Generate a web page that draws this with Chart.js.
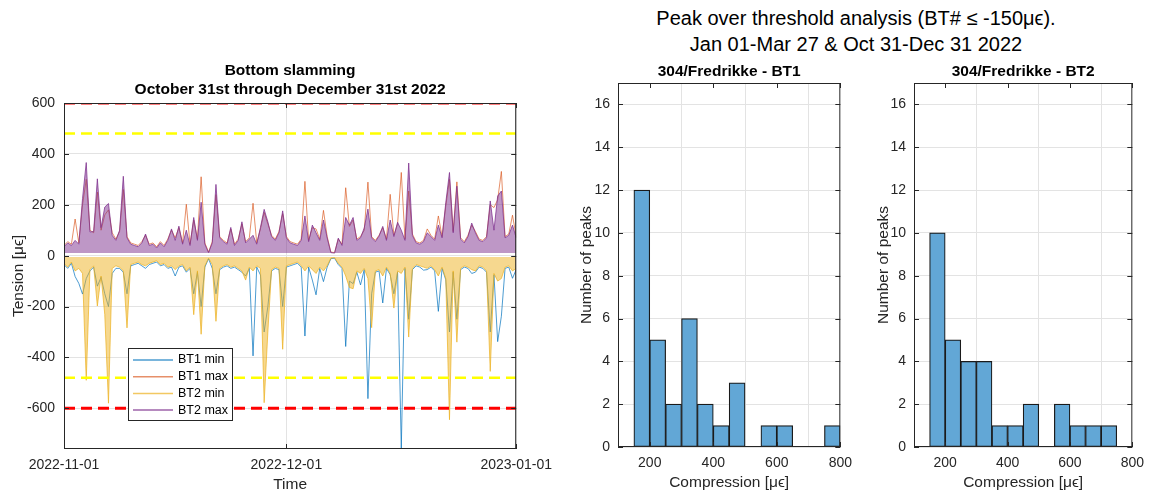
<!DOCTYPE html>
<html>
<head>
<meta charset="utf-8">
<script src="https://cdn.jsdelivr.net/npm/chart.js@4"></script>
<style>
  body { margin: 0; background: #fff; width: 1152px; height: 495px; overflow: hidden; position: relative; font-family: "Liberation Sans", Arial, sans-serif; }
  .sup { position: absolute; left: 560px; width: 592px; text-align: center; font-size: 20px; line-height: 26px; color: #000; }
  canvas { position: absolute; top: 0; }
</style>
</head>
<body>
<div class="sup" style="top:5px">Peak over threshold analysis (BT# ≤ -150μϵ).</div>
<div class="sup" style="top:31px">Jan 01-Mar 27 &amp; Oct 31-Dec 31 2022</div>
<canvas id="timeChart" width="560" height="495" style="left:0"></canvas>
<canvas id="histBT1" width="300" height="495" style="left:560px"></canvas>
<canvas id="histBT2" width="292" height="495" style="left:860px"></canvas>
<script>
// ---- time series data (samples every half day from 2022-11-01) ----
const stepDays = 0.5;
const tickDays = [0, 30, 61];
const tickLabels = ['2022-11-01', '2022-12-01', '2023-01-01'];
const tensionTicks = [-600, -400, -200, 0, 200, 400, 600];
const redLimit = 600;
const yellowLimit = 480;

const bt1Min = [
    -35, -50, -30, -82, -109, -151, -90, -60, -45, -120,
    -85, -150, -200, -70, -50, -50, -65, -150, -40, -35,
    -30, -40, -50, -35, -30, -25, -40, -35, -50, -45,
    -80, -45, -40, -65, -50, -150, -65, -200, -45, -12,
    -50, -150, -55, -45, -40, -50, -45, -55, -65, -80,
    -50, -394, -45, -76, -300, -200, -60, -50, -55, -200,
    -45, -40, -35, -30, -45, -316, -45, -96, -154, -50,
    -102, -45, -12, -10, -35, -50, -357, -100, -110, -65,
    -115, -55, -562, -150, -65, -60, -186, -50, -75, -150,
    -65, -757, -50, -250, -55, -40, -45, -57, -55, -45,
    -60, -219, -50, -95, -300, -65, -250, -55, -45, -50,
    -70, -65, -45, -50, -65, -300, -75, -338, -238, -50,
    -45, -89, -55
];
const bt1Max = [
    40, 55, 45, 144, 50, 200, 300, 100, 90, 250,
    100, 160, 180, 90, 65, 95, 260, 75, 50, 45,
    40, 55, 80, 45, 50, 35, 55, 40, 65, 100,
    70, 110, 50, 202, 45, 140, 65, 310, 50, 14,
    55, 240, 75, 60, 50, 105, 45, 65, 125, 55,
    70, 206, 50, 105, 170, 125, 80, 65, 95, 165,
    75, 55, 50, 45, 65, 292, 60, 110, 105, 65,
    178, 75, 14, 12, 65, 45, 267, 115, 140, 65,
    75, 100, 289, 75, 60, 80, 110, 65, 241, 80,
    125, 327, 65, 254, 85, 55, 50, 60, 105, 80,
    65, 156, 75, 195, 300, 95, 290, 70, 55, 80,
    120, 95, 65, 60, 75, 200, 189, 220, 331, 75,
    85, 159, 75
];
const bt2Min = [
    -30, -45, -25, -60, -50, -70, -490, -55, -40, -198,
    -80, -232, -580, -50, -40, -45, -60, -284, -35, -30,
    -25, -35, -40, -30, -25, -20, -35, -30, -45, -40,
    -55, -40, -35, -60, -45, -232, -60, -309, -40, -10,
    -35, -258, -50, -40, -35, -45, -40, -50, -60, -96,
    -45, -60, -40, -50, -578, -300, -55, -45, -50, -368,
    -40, -35, -30, -25, -40, -60, -40, -55, -70, -45,
    -60, -40, -10, -8, -30, -45, -80, -125, -130, -60,
    -70, -50, -90, -283, -60, -55, -80, -45, -70, -206,
    -60, -70, -45, -320, -50, -35, -40, -45, -50, -40,
    -55, -80, -45, -90, -645, -60, -340, -50, -40, -45,
    -55, -60, -40, -45, -60, -455, -70, -100, -90, -45,
    -40, -60, -50
];
const bt2Max = [
    35, 50, 40, 60, 45, 225, 366, 93, 95, 302,
    110, 191, 205, 80, 60, 100, 312, 70, 45, 40,
    35, 50, 85, 40, 45, 30, 50, 35, 60, 105,
    60, 116, 45, 100, 40, 150, 60, 210, 45, 12,
    50, 280, 70, 55, 45, 111, 40, 60, 133, 50,
    65, 80, 45, 111, 182, 133, 75, 60, 90, 176,
    70, 50, 45, 40, 60, 156, 55, 120, 90, 60,
    140, 70, 12, 10, 69, 40, 150, 120, 150, 60,
    70, 109, 183, 70, 55, 77, 115, 60, 140, 75,
    131, 100, 60, 364, 79, 50, 45, 55, 90, 75,
    60, 120, 70, 208, 327, 90, 273, 65, 50, 75,
    128, 90, 60, 55, 70, 215, 100, 234, 254, 70,
    80, 120, 70
];

// ---- histogram data (bins of 50 με) ----
const binCenters = [175, 225, 275, 325, 375, 425, 475, 525, 575, 625, 675, 725, 775];
const bt1Counts = [12, 5, 2, 6, 2, 1, 3, 0, 1, 1, 0, 0, 1];
const bt2Counts = [10, 5, 4, 4, 1, 1, 2, 0, 2, 1, 1, 1, 0];
const compressionTicks = [200, 400, 600, 800];
const peakTicks = [0, 2, 4, 6, 8, 10, 12, 14, 16];

const axisColor = '#262626';
const gridColor = '#e3e3e3';
const fontFamily = '"Liberation Sans", Arial, sans-serif';
const tickFont = { family: fontFamily, size: 14 };
const labelFont = { family: fontFamily, size: 15.5 };

const seriesStyle = {
    'BT1 min': 'rgba(0, 114, 189, 0.7)',
    'BT1 max': 'rgba(217, 83, 25, 0.65)',
    'BT2 min': 'rgba(237, 177, 32, 0.7)',
    'BT2 max': 'rgba(126, 47, 142, 0.75)'
};

// box around the axes with inward tick marks (matlab look)
const boxPlugin = {
    id: 'box',
    afterDraw(chart) {
        const { ctx, chartArea: a, scales } = chart;
        ctx.save();
        ctx.strokeStyle = axisColor;
        ctx.lineWidth = 1;
        ctx.strokeRect(a.left + 0.5, a.top + 0.5, a.right - a.left - 1, a.bottom - a.top - 1);
        ctx.beginPath();
        scales.x.ticks.forEach(t => {
            const px = Math.round(scales.x.getPixelForValue(t.value)) + 0.5;
            ctx.moveTo(px, a.bottom); ctx.lineTo(px, a.bottom - 5);
            ctx.moveTo(px, a.top); ctx.lineTo(px, a.top + 5);
        });
        scales.y.ticks.forEach(t => {
            const py = Math.round(scales.y.getPixelForValue(t.value)) + 0.5;
            ctx.moveTo(a.left, py); ctx.lineTo(a.left + 5, py);
            ctx.moveTo(a.right, py); ctx.lineTo(a.right - 5, py);
        });
        ctx.stroke();
        ctx.restore();
    }
};

// bold title centred over the plot area
const axTitlePlugin = {
    id: 'axTitle',
    afterDraw(chart, args, opts) {
        const { ctx, chartArea: a } = chart;
        ctx.save();
        ctx.font = 'bold 15.5px ' + fontFamily;
        ctx.fillStyle = '#000';
        ctx.textAlign = 'center';
        ctx.textBaseline = 'middle';
        opts.lines.forEach((t, i) => ctx.fillText(t, (a.left + a.right) / 2, opts.y + i * 19));
        ctx.restore();
    }
};

// legend box inside the plot
const boxLegendPlugin = {
    id: 'boxLegend',
    afterDraw(chart, args, opts) {
        const { ctx } = chart;
        const names = Object.keys(seriesStyle);
        ctx.save();
        ctx.fillStyle = '#fff';
        ctx.fillRect(opts.x, opts.y, opts.w, opts.h);
        ctx.strokeStyle = axisColor;
        ctx.lineWidth = 1;
        ctx.strokeRect(opts.x + 0.5, opts.y + 0.5, opts.w, opts.h);
        ctx.font = '12.5px ' + fontFamily;
        ctx.textBaseline = 'middle';
        names.forEach((n, i) => {
            const cy = opts.y + 12 + i * 16.7;
            ctx.strokeStyle = seriesStyle[n];
            ctx.lineWidth = 1.5;
            ctx.beginPath();
            ctx.moveTo(opts.x + 5, cy); ctx.lineTo(opts.x + 45, cy);
            ctx.stroke();
            ctx.fillStyle = '#000';
            ctx.fillText(n, opts.x + 50, cy);
        });
        ctx.restore();
    }
};

const toPoints = arr => arr.map((v, i) => ({ x: i * stepDays, y: v }));

const lineSet = (label, arr, order, fillBase, fillAlpha) => ({
    label: label,
    data: toPoints(arr),
    borderColor: seriesStyle[label],
    backgroundColor: seriesStyle[label].replace(/[\d.]+\)$/, fillAlpha + ')'),
    fill: fillBase === null ? false : { value: fillBase },
    borderWidth: 1,
    pointRadius: 0,
    order: order
});

const limitSet = (value, color, width) => ({
    data: [{ x: tickDays[0], y: value }, { x: tickDays[2], y: value }],
    borderColor: color,
    borderWidth: width,
    borderDash: [11, 6],
    pointRadius: 0,
    fill: false,
    order: 0
});

new Chart(document.getElementById('timeChart'), {
    type: 'line',
    data: {
        datasets: [
            lineSet('BT1 min', bt1Min, 4, null, 0),
            lineSet('BT1 max', bt1Max, 3, null, 0),
            lineSet('BT2 min', bt2Min, 2, -5, 0.5),
            lineSet('BT2 max', bt2Max, 1, 10, 0.5),
            limitSet(redLimit, '#ff0000', 3),
            limitSet(-redLimit, '#ff0000', 3),
            limitSet(yellowLimit, '#ffff00', 2.5),
            limitSet(-yellowLimit, '#ffff00', 2.5)
        ]
    },
    options: {
        responsive: false,
        animation: false,
        devicePixelRatio: 1,
        layout: { padding: { left: 0, top: 103, right: 43, bottom: 0 } },
        plugins: {
            legend: { display: false },
            tooltip: { enabled: false },
            axTitle: { lines: ['Bottom slamming', 'October 31st through December 31st 2022'], y: 71 },
            boxLegend: { x: 128, y: 348, w: 104, h: 72 }
        },
        scales: {
            x: {
                type: 'linear', min: tickDays[0], max: tickDays[2],
                afterBuildTicks: s => { s.ticks = tickDays.map(v => ({ value: v })); },
                afterFit: s => { s.height = 46; },
                grid: { color: gridColor, drawTicks: false },
                border: { display: false },
                ticks: { color: axisColor, font: tickFont, padding: 8, maxRotation: 0,
                    callback: (v, i) => tickLabels[i] },
                title: { display: true, text: 'Time', color: axisColor, font: labelFont, padding: { top: 0, bottom: 1 } }
            },
            y: {
                min: -760, max: 600,
                afterBuildTicks: s => { s.ticks = tensionTicks.map(v => ({ value: v })); },
                afterFit: s => { s.width = 64; },
                grid: { color: gridColor, drawTicks: false },
                border: { display: false },
                ticks: { color: axisColor, font: tickFont, padding: 9 },
                title: { display: true, text: 'Tension [μϵ]', color: axisColor, font: labelFont, padding: { top: 9, bottom: 0 } }
            }
        }
    },
    plugins: [boxPlugin, axTitlePlugin, boxLegendPlugin]
});

const histChart = (id, counts, name, padRight, yWidth, yTitlePad) => new Chart(document.getElementById(id), {
    type: 'bar',
    data: {
        datasets: [{
            data: binCenters.map((c, i) => ({ x: c, y: counts[i] })),
            backgroundColor: 'rgb(98, 167, 214)',
            borderColor: '#1a1a1a',
            borderWidth: counts.map(c => c === 0 ? 0 : 1.2),
            borderSkipped: false,
            barPercentage: 1,
            categoryPercentage: 1
        }]
    },
    options: {
        responsive: false,
        animation: false,
        devicePixelRatio: 1,
        layout: { padding: { left: 0, top: 83, right: padRight, bottom: 0 } },
        plugins: {
            legend: { display: false },
            tooltip: { enabled: false },
            axTitle: { lines: [name], y: 72 }
        },
        scales: {
            x: {
                type: 'linear', min: 100, max: 800, offset: false,
                afterBuildTicks: s => { s.ticks = compressionTicks.map(v => ({ value: v })); },
                afterFit: s => { s.height = 48; },
                grid: { color: gridColor, drawTicks: false },
                border: { display: false },
                ticks: { color: axisColor, font: tickFont, padding: 8, maxRotation: 0 },
                title: { display: true, text: 'Compression [μϵ]', color: axisColor, font: labelFont, padding: { top: 0, bottom: 3 } }
            },
            y: {
                min: 0, max: 17,
                afterBuildTicks: s => { s.ticks = peakTicks.map(v => ({ value: v })); },
                afterFit: s => { s.width = yWidth; },
                grid: { color: gridColor, drawTicks: false },
                border: { display: false },
                ticks: { color: axisColor, font: tickFont, padding: 8 },
                title: { display: true, text: 'Number of peaks', color: axisColor, font: labelFont, padding: { top: yTitlePad, bottom: 0 } }
            }
        }
    },
    plugins: [boxPlugin, axTitlePlugin]
});

histChart('histBT1', bt1Counts, '304/Fredrikke - BT1', 18, 58, 17);
histChart('histBT2', bt2Counts, '304/Fredrikke - BT2', 15, 54, 14);
</script>
</body>
</html>
